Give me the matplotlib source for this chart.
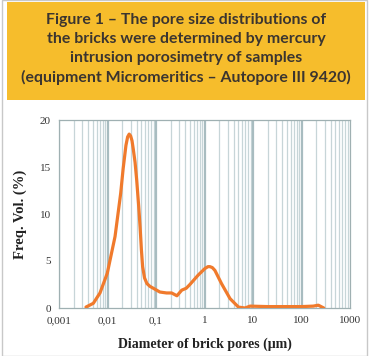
import numpy as np
import matplotlib
matplotlib.use("Agg")
from matplotlib import pyplot as plt
from matplotlib.patches import Rectangle

# pore diameter (um) and frequency volume (%)
diam = [0.0036, 0.0051, 0.007, 0.0099, 0.0143, 0.0187, 0.021, 0.024, 0.026,
        0.028, 0.030, 0.032, 0.034, 0.037, 0.040, 0.044, 0.047, 0.050, 0.053,
        0.058, 0.065, 0.075, 0.088, 0.12, 0.165, 0.21, 0.27, 0.34, 0.42,
        0.50, 0.74, 1.02, 1.18, 1.29, 1.45, 1.64, 2.24, 3.36, 5.0, 6.8, 8.7,
        20, 50, 100, 175, 222, 288]
freq = [0.1, 0.5, 1.6, 3.7, 7.6, 12.2, 14.8, 17.3, 18.2, 18.5, 18.3, 17.8,
        16.9, 15.5, 13.6, 10.8, 8.6, 6.2, 4.4, 3.2, 2.6, 2.3, 2.1, 1.7, 1.6,
        1.6, 1.3, 1.9, 2.1, 2.5, 3.5, 4.2, 4.4, 4.4, 4.3, 4.0, 2.6, 1.0, 0.1,
        0.0, 0.2, 0.15, 0.15, 0.15, 0.2, 0.3, 0.0]

xticks = [0.001, 0.01, 0.1, 1, 10, 100, 1000]
xticklabels = ["0,001", "0,01", "0,1", "1", "10", "100", "1000"]
yticks = [0, 5, 10, 15, 20]

title_lines = ["Figure 1 \u2013 The pore size distributions of",
               "the bricks were determined by mercury",
               "intrusion porosimetry of samples",
               "(equipment Micromeritics \u2013 Autopore III 9420)"]

W, H = 372, 356
fig = plt.figure(figsize=(W / 100, H / 100), dpi=100)
fig.patch.set_facecolor("white")

# outer frame and yellow banner, in figure pixels
fig.patches.append(Rectangle((2 / W, 0), 365 / W, 1, transform=fig.transFigure,
                             facecolor="none", edgecolor="#c8c8c8", lw=1))
fig.patches.append(Rectangle((7 / W, 1 - 100 / H), 358 / W, 98 / H,
                             transform=fig.transFigure, facecolor="#f6bd2c",
                             edgecolor="none"))
for i, line in enumerate(title_lines):
    fig.text(186 / W, 1 - (20 + i * 19) / H, line, ha="center", va="center",
             fontsize=11.4, fontweight="bold", color="#3b3530", family="Lato")

ax = fig.add_axes([59 / W, 48 / H, 291 / W, 188 / H])
ax.set_xscale("log")
ax.set_xlim(0.001, 1000)
ax.set_ylim(0, 20)

# vertical grid lines
for dec in range(-3, 3):
    for m in range(1, 10):
        v = m * 10.0 ** dec
        if m == 1:
            ax.axvline(v, color="#a8bcc0", lw=1.6, zorder=1)
        else:
            ax.axvline(v, color="#c7d5d8", lw=0.9, zorder=1)

ax.plot(diam, freq, color="#f07a2c", lw=2.3, solid_capstyle="round",
        solid_joinstyle="round", zorder=3)

ax.set_xticks(xticks)
ax.set_xticklabels(xticklabels)
ax.xaxis.set_minor_locator(matplotlib.ticker.NullLocator())
ax.set_yticks(yticks)
ax.tick_params(length=0, labelsize=8, labelcolor="#333333", pad=6)
for lab in ax.get_xticklabels() + ax.get_yticklabels():
    lab.set_family("Liberation Serif")
for s in ax.spines.values():
    s.set_color("#9fb0b2")
    s.set_linewidth(0.9)

ax.set_xlabel("Diameter of brick pores (\u03bcm)", fontsize=10, fontweight="bold",
              family="Liberation Serif", color="#222222", labelpad=9)
ax.set_ylabel("Freq. Vol. (%)", fontsize=10.5, fontweight="bold",
              family="Liberation Serif", color="#222222", labelpad=9)

fig.savefig("out.png", dpi=100)
